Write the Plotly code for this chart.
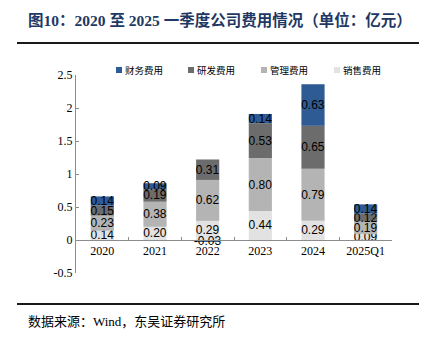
import plotly.graph_objects as go

# Annual expense breakdown, unit: 100 million yuan
years = ["2020", "2021", "2022", "2023", "2024", "2025Q1"]
sales_exp = [0.14, 0.20, 0.29, 0.44, 0.29, 0.09]
admin_exp = [0.23, 0.38, 0.62, 0.80, 0.79, 0.19]
rnd_exp = [0.15, 0.19, 0.31, 0.53, 0.65, 0.12]
fin_exp = [0.14, 0.09, -0.03, 0.14, 0.63, 0.14]

y_ticks = [-0.5, 0, 0.5, 1, 1.5, 2, 2.5]
y_tick_text = ["-0.5", "0", "0.5", "1", "1.5", "2", "2.5"]

W, H = 437, 338
ML, MR, MT, MB = 76, 45, 75, 65
PW, PH = W - ML - MR, H - MT - MB


def px_x(p):
    return (p - ML) / PW


def px_y(p):
    return (H - MB - p) / PH


series = [
    ("销售费用", sales_exp, "#E2E2E2"),
    ("管理费用", admin_exp, "#B4B4B4"),
    ("研发费用", rnd_exp, "#6C6C6C"),
    ("财务费用", fin_exp, "#2F5B94"),
]

fig = go.Figure()
for name, vals, color in series:
    fig.add_trace(go.Bar(
        x=years, y=vals, name=name,
        marker=dict(color=color, line=dict(width=0)),
        text=[f"{v:.2f}" for v in vals],
        textposition="inside", insidetextanchor="middle",
        constraintext="none", textangle=0,
        textfont=dict(family="Liberation Sans, Arial", size=12, color="#000000"),
        cliponaxis=False, showlegend=False,
    ))

fig.update_layout(
    width=W, height=H,
    margin=dict(l=ML, r=MR, t=MT, b=MB),
    paper_bgcolor="white", plot_bgcolor="white",
    barmode="relative", bargap=0.56,
    showlegend=False,
    xaxis=dict(
        anchor="free", position=(0 - (-0.5)) / 3.0,
        showline=True, linecolor="#8C8C8C", linewidth=1,
        ticks="inside", ticklen=3, tickcolor="#8C8C8C", tickson="boundaries",
        tickfont=dict(family="Liberation Serif, Times New Roman", size=12, color="#000000"),
        showgrid=False, zeroline=False,
    ),
    yaxis=dict(
        range=[-0.5, 2.5], tickvals=y_ticks, ticktext=y_tick_text,
        showline=True, linecolor="#8C8C8C", linewidth=1,
        ticks="inside", ticklen=3, tickcolor="#8C8C8C",
        tickfont=dict(family="Liberation Serif, Times New Roman", size=12, color="#000000"),
        showgrid=False, zeroline=False,
    ),
)

# Legend row across the top: key square plus series name
legend_left = [116, 188, 261, 334]
for (name, _, color), left in zip(reversed(series), legend_left):
    fig.add_shape(type="rect", xref="paper", yref="paper",
                  x0=px_x(left), x1=px_x(left + 6), y0=px_y(73), y1=px_y(67),
                  fillcolor=color, line=dict(width=0))
    fig.add_annotation(
        text=name, xref="paper", yref="paper",
        x=px_x(left + 7), y=px_y(70), xanchor="left", yanchor="middle",
        showarrow=False,
        font=dict(family="Noto Sans CJK SC", size=9.5, color="#000000"),
    )

# Title, rules and source note
fig.add_annotation(
    text="<b>图10：2020 至 2025 一季度公司费用情况（单位：亿元）</b>",
    xref="paper", yref="paper", x=px_x(26), y=px_y(20),
    xanchor="left", yanchor="middle", showarrow=False,
    font=dict(family="Liberation Serif, Noto Sans CJK SC", size=15.5, color="#1F3864"),
)
fig.add_shape(type="line", xref="paper", yref="paper",
              x0=px_x(17), x1=px_x(419), y0=px_y(43), y1=px_y(43),
              line=dict(color="#1A1A1A", width=2))
fig.add_shape(type="line", xref="paper", yref="paper",
              x0=px_x(17), x1=px_x(419), y0=px_y(304), y1=px_y(304),
              line=dict(color="#1A1A1A", width=2))
fig.add_annotation(
    text="数据来源：Wind，东吴证券研究所",
    xref="paper", yref="paper", x=px_x(26), y=px_y(321),
    xanchor="left", yanchor="middle", showarrow=False,
    font=dict(family="Liberation Serif, Noto Sans CJK SC", size=13, color="#000000"),
)

fig.write_html("out.html")
